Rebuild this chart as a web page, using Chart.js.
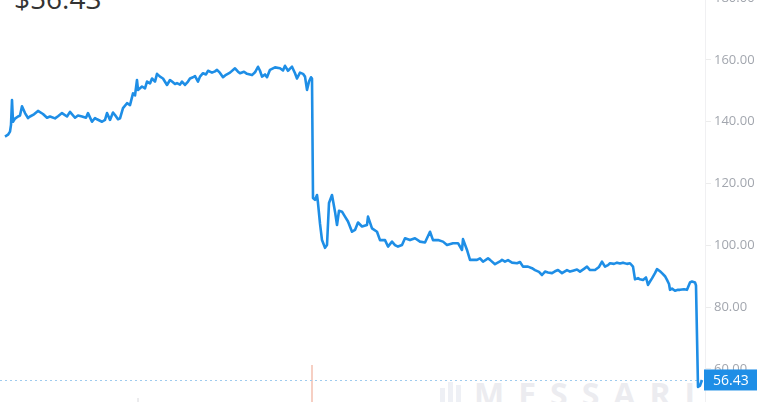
<!DOCTYPE html>
<html>
<head>
<meta charset="utf-8">
<script src="https://cdn.jsdelivr.net/npm/chart.js@4"></script>
<style>
  html, body { margin: 0; padding: 0; background: #fff; overflow: hidden; }
  #wrap { position: relative; width: 768px; height: 402px; overflow: hidden; }
  #title {
    position: absolute; left: 14px; top: -21px;
    font: 28px "Open Sans", sans-serif; color: #333;
  }
  #mark {
    position: absolute; left: 474px; top: 372px;
    font: bold 32px "Open Sans", sans-serif; color: #ececf0;
    letter-spacing: 14px;
  }
  .bar { position: absolute; background: #eef0f5; width: 5px; }
  canvas { position: absolute; left: 0; top: 0; }
</style>
</head>
<body>
<div id="wrap">
  <div class="bar" style="left:440px;top:388px;height:14px"></div>
  <div class="bar" style="left:448px;top:382px;height:20px"></div>
  <div class="bar" style="left:456px;top:385px;height:17px"></div>
  <div id="mark">MESSARI</div>
  <div id="title">$56.43</div>
  <canvas id="chart" width="768" height="402"></canvas>
</div>
<script>
// time steps (read along the x axis) and prices
const days = [
  5, 8, 10, 11, 12, 13, 15, 18, 20, 22, 25, 28, 30, 34, 38, 43, 47, 50, 55, 58,
  62, 67, 70, 75, 78, 82, 86, 88, 92, 95, 97, 102, 105, 107, 110, 113, 115, 118, 120, 123,
  127, 130, 133, 135, 137, 138, 142, 145, 147, 150, 152, 155, 157, 160, 163, 167, 170, 172, 175, 177,
  180, 182, 185, 188, 190, 193, 195, 198, 200, 203, 206, 208, 212, 215, 217, 220, 223, 226, 230, 235,
  238, 240, 244, 247, 252, 255, 258, 260, 262, 265, 267, 270, 275, 280, 283, 285, 288, 290, 292, 295,
  297, 300, 303, 305, 307, 309, 311, 312, 313, 315, 317, 318, 320, 322, 325, 327, 329, 332, 335, 337,
  339, 342, 345, 348, 352, 355, 358, 362, 367, 368, 372, 377, 380, 385, 388, 392, 395, 398, 402, 405,
  410, 415, 420, 425, 430, 433, 438, 443, 447, 453, 458, 462, 463, 467, 470, 473, 477, 480, 483, 488,
  490, 495, 500, 502, 505, 508, 512, 517, 520, 523, 528, 532, 535, 539, 542, 545, 548, 552, 555, 558,
  562, 567, 570, 573, 577, 580, 584, 587, 590, 595, 599, 602, 605, 608, 610, 614, 617, 620, 623, 627,
  630, 633, 635, 638, 640, 643, 646, 648, 650, 652, 655, 657, 660, 662, 665, 667, 669, 670, 672, 675,
  678, 680, 684, 687, 690, 692, 695, 696, 698, 700, 702
];
const prices = [
  135.2, 135.8, 136.8, 139, 147, 140, 141, 141.7, 142, 145, 142.8, 141.2, 141.7, 142.4, 143.5, 142.5, 141.3, 141.7, 141.1, 141.8,
  142.8, 141.7, 143.2, 141.3, 142, 141.7, 141.3, 142.8, 140, 141.2, 140.8, 140, 140.6, 142.8, 140.6, 143, 142.2, 140.8, 141.1, 144.4,
  146, 145.4, 149.2, 148.5, 153.5, 150.3, 151.4, 150.8, 153, 152.4, 154, 153, 155.5, 154.6, 154, 151.9, 153.5, 153, 152.2, 152.5,
  152, 153, 151.9, 153, 154, 154.4, 154.8, 153, 154.6, 155.7, 155.3, 156.5, 155.9, 156.3, 156.8, 155.8, 154.4, 155.2, 155.9, 157.3,
  156.2, 155.7, 156.2, 155.5, 155.1, 156, 157.8, 156.5, 154.6, 155.3, 154.4, 156.8, 157.6, 157.3, 156.6, 158.1, 156.5, 157.2, 157.8, 155.7,
  154, 155.9, 155.5, 154.6, 150.3, 153, 154.4, 154, 115.3, 114.7, 116.3, 113.7, 107, 101.7, 99.2, 100.1, 113.7, 116.3, 110.9, 106.6,
  111.2, 110.9, 109.3, 107.7, 104.4, 105, 107.4, 106.1, 106.6, 109.3, 105.5, 104.4, 101.7, 101.7, 99.6, 101.2, 100.1, 99.6, 100.1, 102.3,
  101.7, 102.3, 101.2, 100.9, 104.4, 101.7, 101.7, 101.2, 100.1, 100.7, 100.7, 98.5, 102, 98.5, 95.3, 95.3, 95.3, 95.8, 94.7, 95.8,
  95.3, 93.9, 94.8, 95.3, 94.7, 95.2, 94.4, 94.2, 94.6, 93.1, 93.1, 92.6, 92, 91.4, 90.4, 91.5, 91.2, 91, 91.6, 92,
  91, 92, 91.5, 91.8, 92.2, 91.5, 92.4, 93.1, 92, 92, 93, 94.7, 93.1, 93.6, 94.2, 94, 94.4, 94.1, 94.4, 94,
  94.2, 93.1, 89, 89.4, 89, 88.8, 89.6, 87.2, 88.3, 89.3, 91, 92.3, 91.6, 91, 90, 88.8, 87.5, 85.6, 86, 85.3,
  85.6, 85.6, 85.8, 85.6, 88, 88.3, 88, 87, 54.2, 54.6, 56.43
];
const yTicks = [60, 80, 100, 120, 140, 160, 180];
const lastPrice = 56.43;
const eventDay = 312;   // faint red marker
const tickDay = 138;    // small time tick at bottom

const lineColor = '#1e8ee6';

// üîπ extra drawing: dotted last-price line, marker and price box
const pricePlugin = {
  id: 'priceTag',
  beforeDatasetsDraw(chart) {
    const { ctx, chartArea, scales } = chart;
    const ex = scales.x.getPixelForValue(eventDay);
    ctx.save();
    ctx.strokeStyle = '#f6cfc3';
    ctx.lineWidth = 2;
    ctx.beginPath();
    ctx.moveTo(ex, chartArea.bottom - 37);
    ctx.lineTo(ex, chartArea.bottom);
    ctx.stroke();

    const tx = scales.x.getPixelForValue(tickDay);
    ctx.strokeStyle = '#d8d8dc';
    ctx.lineWidth = 1;
    ctx.beginPath();
    ctx.moveTo(tx, chartArea.bottom - 4);
    ctx.lineTo(tx, chartArea.bottom);
    ctx.stroke();

    const y = Math.round(scales.y.getPixelForValue(lastPrice)) + 0.5;
    ctx.strokeStyle = '#9fcbee';
    ctx.setLineDash([2, 3]);
    ctx.beginPath();
    ctx.moveTo(chartArea.left, y);
    ctx.lineTo(chartArea.right, y);
    ctx.stroke();
    ctx.restore();
  },
  afterDraw(chart) {
    const { ctx, chartArea, scales } = chart;
    const y = scales.y.getPixelForValue(lastPrice);
    ctx.save();
    ctx.fillStyle = lineColor;
    ctx.fillRect(chartArea.right - 1, y - 10.5, 53, 21);
    ctx.fillStyle = '#fff';
    ctx.font = '14px "Open Sans"';
    ctx.textBaseline = 'middle';
    ctx.fillText(lastPrice.toFixed(2), chartArea.right + 8, y + 1);
    ctx.restore();
  }
};

const ctx = document.getElementById('chart').getContext('2d');
new Chart(ctx, {
  type: 'line',
  data: {
    datasets: [{
      data: days.map((d, i) => ({ x: d, y: prices[i] })),
      borderColor: lineColor,
      borderWidth: 2.6,
      borderJoinStyle: 'round',
      pointRadius: 0,
      tension: 0,
      fill: false
    }]
  },
  options: {
    responsive: false,
    animation: false,
    layout: { padding: 0 },
    plugins: { legend: { display: false }, tooltip: { enabled: false } },
    scales: {
      x: { type: 'linear', min: 0, max: 705, display: false },
      y: {
        position: 'right',
        min: 49.3,
        max: 179.4,
        afterBuildTicks(scale) { scale.ticks = yTicks.map(v => ({ value: v })); },
        afterFit(scale) {
          scale.width = 63;
          scale.paddingTop = 0;
          scale.paddingBottom = 0;
        },
        grid: { drawOnChartArea: false, tickLength: 6, color: '#ececec' },
        border: { color: '#f0f0f2' },
        ticks: {
          color: '#a2a6ae',
          padding: 3,
          font: { family: 'Open Sans', size: 13 },
          callback: v => v.toFixed(2)
        }
      }
    }
  },
  plugins: [pricePlugin]
});
</script>
</body>
</html>
